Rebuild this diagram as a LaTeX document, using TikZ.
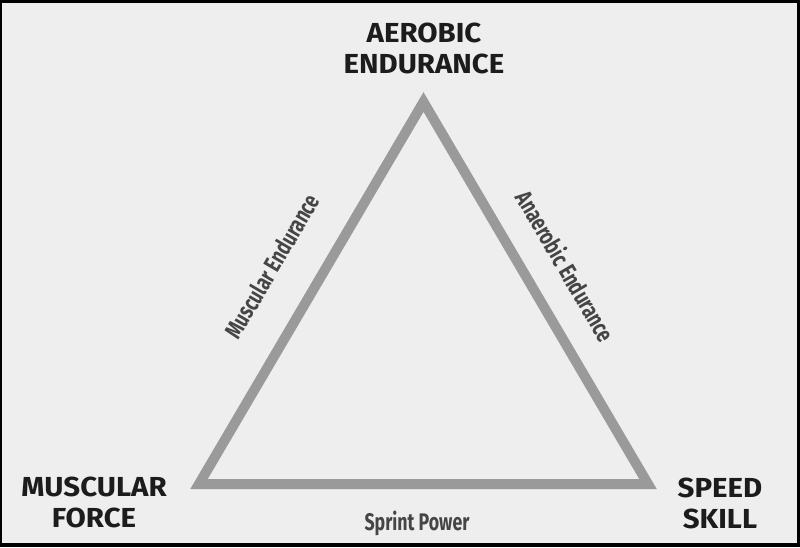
\documentclass[tikz,border=0pt]{standalone}
\usepackage{fontspec}
\setmainfont{Fira Sans}
\newfontfamily\titfont[FakeStretch=1.07]{Fira Sans}
\newfontfamily\condfont[FakeStretch=0.74]{Fira Sans}
\definecolor{bgc}{HTML}{EEEEEE}
\definecolor{tric}{HTML}{9A9A9A}
\definecolor{titc}{HTML}{1C1C1C}
\definecolor{lblc}{HTML}{454545}
\tikzset{
  tri/.style={draw=tric, line width=10pt, line join=miter},
  title/.style={inner sep=0pt, align=center, text=titc,
    font=\titfont\fontsize{27.5}{31}\selectfont\bfseries},
  lbl/.style={inner sep=0pt, text=lblc,
    font=\condfont\fontsize{24}{28}\selectfont\bfseries},
}
\begin{document}
\begin{tikzpicture}[x=1pt,y=-1pt]
\useasboundingbox (0,0) rectangle (800,547);
\fill[black] (0,0) rectangle (800,547);
\fill[bgc] (2,3) rectangle (797,543);
\coordinate (top) at (423.5,102);
\coordinate (bl) at (199,484);
\coordinate (br) at (648,484);
\draw[tri] (bl) -- (top) -- (br) -- cycle;
\node[title, anchor=north] (aer) at (424,22.5) {AEROBIC\\ENDURANCE};
\node[title, anchor=north] (mus) at (94,477) {MUSCULAR\\FORCE};
\node[title, anchor=north] (spd) at (720,477.5) {SPEED\\SKILL};
\node[lbl, rotate=59.6] (me) at (272,266) {Muscular Endurance};
\node[lbl, rotate=-59.6] (ae) at (566,266) {Anaerobic Endurance};
\node[lbl, anchor=base] (sp) at (417,530) {Sprint Power};
\end{tikzpicture}
\end{document}
